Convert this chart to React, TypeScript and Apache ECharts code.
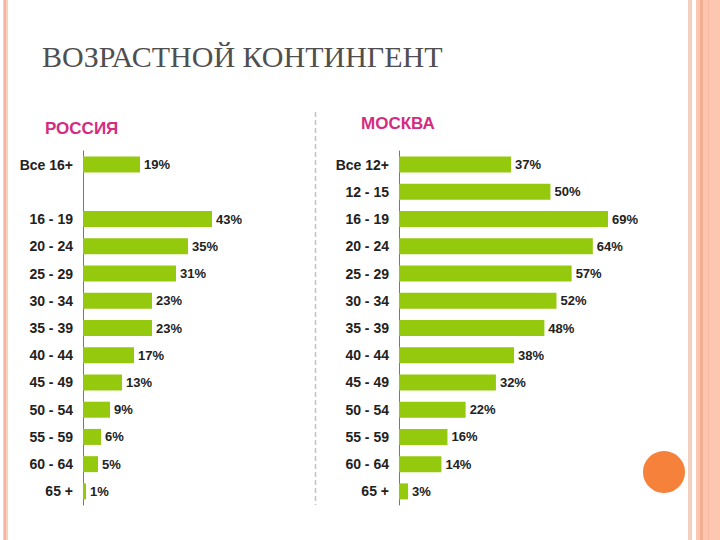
import React, { useEffect, useRef } from "react";
import * as echarts from "echarts";

const titleText = "ВОЗРАСТНОЙ КОНТИНГЕНТ";
const leftTitle = "РОССИЯ";
const rightTitle = "МОСКВА";

const russiaCategories = ["Все 16+", "", "16 - 19", "20 - 24", "25 - 29", "30 - 34", "35 - 39", "40 - 44", "45 - 49", "50 - 54", "55 - 59", "60 - 64", "65 +"];
const russiaValues: (number | string)[] = [19, "-", 43, 35, 31, 23, 23, 17, 13, 9, 6, 5, 1];

const moscowCategories = ["Все 12+", "12 - 15", "16 - 19", "20 - 24", "25 - 29", "30 - 34", "35 - 39", "40 - 44", "45 - 49", "50 - 54", "55 - 59", "60 - 64", "65 +"];
const moscowValues: number[] = [37, 50, 69, 64, 57, 52, 48, 38, 32, 22, 16, 14, 3];

const BAR = "#95c90e";
const TXT = "#222222";
const FONT = "'Liberation Sans', Arial, sans-serif";

export default function App() {
  const ref = useRef<HTMLDivElement>(null);
  useEffect(() => {
    if (!ref.current) return;
    const chart = echarts.init(ref.current, undefined, { renderer: "svg" });
    const yAxisBase = {
      type: "category" as const,
      inverse: true,
      axisLine: { show: true, lineStyle: { color: "#777", width: 1 } },
      axisTick: { show: false },
      axisLabel: { color: TXT, fontFamily: FONT, fontWeight: "bold" as const, fontSize: 14, margin: 10 },
      splitLine: { show: false },
    };
    const xAxisBase = {
      type: "value" as const,
      min: 0,
      max: 70,
      show: false,
      splitLine: { show: false },
    };
    const labelBase = {
      show: true,
      position: "right" as const,
      distance: 4,
      formatter: "{c}%",
      color: TXT,
      fontFamily: FONT,
      fontWeight: "bold" as const,
      fontSize: 13,
    };
    chart.setOption({
      animation: false,
      backgroundColor: "#ffffff",
      grid: [
        { left: 83, top: 151, width: 210, height: 354 },
        { left: 399, top: 151, width: 212, height: 354 },
      ],
      xAxis: [
        { ...xAxisBase, gridIndex: 0 },
        { ...xAxisBase, gridIndex: 1 },
      ],
      yAxis: [
        { ...yAxisBase, gridIndex: 0, data: russiaCategories },
        { ...yAxisBase, gridIndex: 1, data: moscowCategories },
      ],
      series: [
        {
          type: "bar",
          xAxisIndex: 0,
          yAxisIndex: 0,
          data: russiaValues,
          barWidth: 16,
          itemStyle: { color: BAR },
          label: labelBase,
        },
        {
          type: "bar",
          xAxisIndex: 1,
          yAxisIndex: 1,
          data: moscowValues,
          barWidth: 16,
          itemStyle: { color: BAR },
          label: labelBase,
        },
      ],
      graphic: [
        { type: "rect", shape: { x: 3, y: 0, width: 5, height: 540 }, style: { fill: "#f9cfc0" }, silent: true },
        { type: "rect", shape: { x: 4, y: 0, width: 2, height: 540 }, style: { fill: "#f4b4a0" }, silent: true },
        { type: "rect", shape: { x: 688, y: 0, width: 4, height: 540 }, style: { fill: "#f2cfbf" }, silent: true },
        { type: "rect", shape: { x: 696, y: 0, width: 24, height: 540 }, style: { fill: "#fcc6b0" }, silent: true },
        { type: "rect", shape: { x: 700, y: 0, width: 3, height: 540 }, style: { fill: "#f3ad90" }, silent: true },
        { type: "rect", shape: { x: 708, y: 0, width: 1, height: 540 }, style: { fill: "#f7b99f" }, silent: true },
        {
          type: "text",
          left: 42,
          top: 41,
          style: {
            text: titleText,
            fill: "#4f4f4f",
            font: "30px 'Liberation Serif', 'Times New Roman', serif",
          },
        },
        {
          type: "text",
          left: 45,
          top: 120,
          style: { text: leftTitle, fill: "#d42c80", font: "bold 17px 'Liberation Sans', Arial, sans-serif" },
        },
        {
          type: "text",
          left: 361,
          top: 115,
          style: { text: rightTitle, fill: "#d42c80", font: "bold 17px 'Liberation Sans', Arial, sans-serif" },
        },
        {
          type: "line",
          shape: { x1: 315.5, y1: 112, x2: 315.5, y2: 505 },
          style: { stroke: "#c4c4c4", lineWidth: 1.5, lineDash: [5, 3] },
          silent: true,
        },
        {
          type: "circle",
          shape: { cx: 664, cy: 472, r: 21 },
          style: { fill: "#f6813a" },
          silent: true,
        },
      ],
    });
    return () => chart.dispose();
  }, []);
  return (
    <div
      ref={ref}
      style={{ position: "fixed", left: 0, top: 0, width: 720, height: 540 }}
    />
  );
}
